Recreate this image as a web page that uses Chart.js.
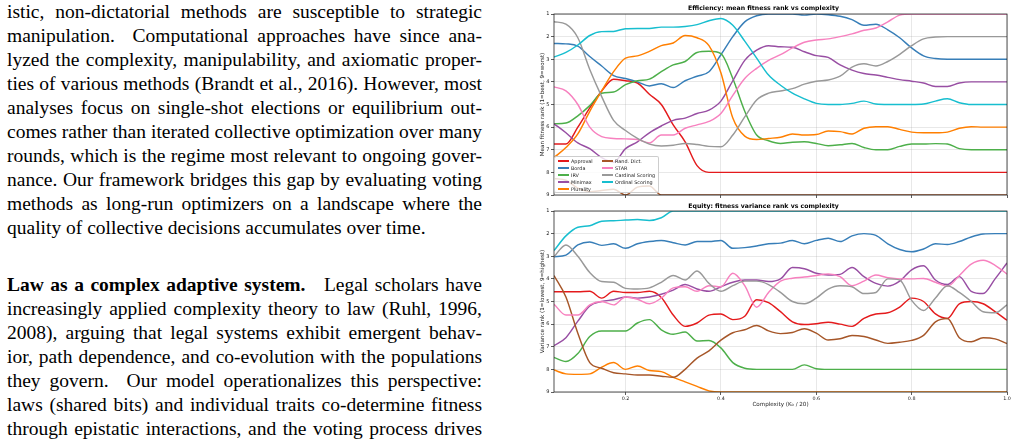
<!DOCTYPE html>
<html lang="en">
<head>
<meta charset="UTF-8">
<title>Voting methods vs complexity</title>
<script src="https://cdn.jsdelivr.net/npm/chart.js"></script>
<style>
  body { margin: 0; width: 1017px; height: 441px; overflow: hidden; background: #fff; position: relative; }
  .col { position: absolute; left: 7px; width: 475px; font-family: "Liberation Serif", "Times New Roman", serif; font-size: 19.5px; line-height: 24px; color: #000; }
  .col div { height: 24px; white-space: nowrap; text-align: justify; text-align-last: justify; }
  .col div.last { text-align: left; text-align-last: left; }
  .col b { margin-right: 12px; }
  #p1 { top: 0; }
  #p2 { top: 273px; }
  .box { position: absolute; left: 520px; width: 497px; }
  #effBox { top: 0; height: 200px; }
  #eqBox { top: 200px; height: 241px; }
  #legend {
    position: absolute; left: 554px; top: 156px; width: 105px; height: 37px;
    box-sizing: border-box; background: rgba(255,255,255,0.8);
    border: 0.8px solid rgba(200,200,200,0.9); border-radius: 2px;
    padding: 0.5px 0 0 3px;
    display: grid; grid-template-columns: 44px auto; grid-template-rows: repeat(5, 7px); grid-auto-flow: column;
    font-family: "DejaVu Sans", sans-serif; font-size: 4.9px; color: #222;
  }
  #legend .item { display: flex; align-items: center; white-space: nowrap; }
  #legend .sw { display: inline-block; width: 10.5px; height: 2px; margin-right: 2.5px; }
</style>
</head>
<body>
<div class="col" id="p1">
  <div>istic, non-dictatorial methods are susceptible to strategic</div>
  <div>manipulation.&nbsp; Computational approaches have since ana-</div>
  <div>lyzed the complexity, manipulability, and axiomatic proper-</div>
  <div>ties of various methods (Brandt et al., 2016). However, most</div>
  <div>analyses focus on single-shot elections or equilibrium out-</div>
  <div>comes rather than iterated collective optimization over many</div>
  <div>rounds, which is the regime most relevant to ongoing gover-</div>
  <div>nance. Our framework bridges this gap by evaluating voting</div>
  <div>methods as long-run optimizers on a landscape where the</div>
  <div class="last">quality of collective decisions accumulates over time.</div>
</div>
<div class="col" id="p2">
  <div><b>Law as a complex adaptive system.</b> Legal scholars have</div>
  <div>increasingly applied complexity theory to law (Ruhl, 1996,</div>
  <div>2008), arguing that legal systems exhibit emergent behav-</div>
  <div>ior, path dependence, and co-evolution with the populations</div>
  <div>they govern.&nbsp; Our model operationalizes this perspective:</div>
  <div>laws (shared bits) and individual traits co-determine fitness</div>
  <div>through epistatic interactions, and the voting process drives</div>
</div>

<div class="box" id="effBox"><canvas id="effChart"></canvas></div>
<div class="box" id="eqBox"><canvas id="eqChart"></canvas></div>
<div id="legend"></div>

<script>
// x values: complexity K0 / 20
const complexity = [0.05, 0.075, 0.1, 0.125, 0.15, 0.175, 0.2, 0.225, 0.25, 0.275,
  0.3, 0.325, 0.35, 0.375, 0.4, 0.425, 0.45, 0.475, 0.5, 0.525,
  0.55, 0.575, 0.6, 0.625, 0.65, 0.675, 0.7, 0.725, 0.75, 0.775,
  0.8, 0.825, 0.85, 0.875, 0.9, 0.925, 0.95, 0.975, 1.0];

const methods = ['Approval', 'Borda', 'IRV', 'Minimax', 'Plurality',
  'Rand. Dict.', 'STAR', 'Cardinal Scoring', 'Ordinal Scoring'];
const lineColors = ['#e41a1c', '#377eb8', '#4daf4a', '#984ea3', '#ff7f00',
  '#a65628', '#f781bf', '#999999', '#17becf'];

const rankTicks = [1, 2, 3, 4, 5, 6, 7, 8, 9];
const complexityTicks = [0.2, 0.4, 0.6, 0.8, 1.0];

// Efficiency: mean fitness rank (1 = best)
const effApproval = [6.75, 6.75, 6.0, 5.15, 4.4, 3.88, 3.95, 4.05, 4.55, 5.0,
  5.9, 6.65, 7.7, 8.0, 8, 8, 8, 8, 8, 8,
  8, 8, 8, 8, 8, 8, 8, 8, 8, 8,
  8, 8, 8, 8, 8, 8, 8, 8, 8];
const effBorda = [2.3, 2.32, 2.42, 2.88, 3.3, 3.72, 3.85, 4.0, 4.18, 4.08,
  4.25, 3.95, 3.75, 3.55, 2.8, 2.0, 1.35, 1.08, 1.0, 1.0,
  1.0, 1.05, 1.0, 1.03, 1.1, 1.25, 1.5, 1.45, 1.7, 2.05,
  2.5, 2.85, 2.97, 3.0, 3.0, 3.0, 3.0, 3.0, 3.0];
const effIRV = [5.85, 5.82, 5.5, 5.05, 4.5, 4.45, 4.12, 3.95, 3.88, 3.55,
  3.25, 3.1, 2.7, 2.65, 2.75, 3.85, 5.3, 6.35, 6.6, 6.72,
  6.67, 6.65, 6.72, 6.82, 6.78, 6.72, 6.9, 7.0, 7.0, 6.85,
  6.75, 6.75, 6.73, 6.75, 6.95, 7.0, 7.0, 7.0, 7.0];
const effMinimax = [5.85, 6.25, 6.7, 6.95, 7.35, 7.55, 6.95, 6.65, 6.25, 5.95,
  5.7, 5.6, 5.4, 5.25, 4.85, 3.95, 3.05, 2.6, 2.4, 2.45,
  2.47, 2.67, 2.84, 2.92, 3.25, 3.48, 3.63, 3.7, 3.8, 3.9,
  3.97, 4.05, 4.2, 4.2, 4.05, 4.0, 4.0, 4.0, 4.0];
const effPlurality = [7.35, 6.9, 6.3, 5.3, 4.4, 3.55, 2.95, 2.85, 2.65, 2.4,
  2.28, 1.95, 2.05, 2.4, 3.6, 5.6, 6.4, 6.55, 6.5, 6.45,
  6.3, 6.35, 6.33, 6.17, 6.2, 6.3, 6.05, 5.98, 5.98, 6.1,
  6.22, 6.25, 6.25, 6.22, 6.05, 5.98, 6.0, 6.0, 6.0];
const effRandDict = [8.27, 8.35, 8.7, 8.85, 8.8, 8.75, 9.0, 8.65, 8.6, 9.0,
  9, 9, 9, 9, 9, 9, 9, 9, 9, 9,
  9, 9, 9, 9, 9, 9, 9, 9, 9, 9,
  9, 9, 9, 9, 9, 9, 9, 9, 9];
const effSTAR = [4.22, 4.4, 5.0, 6.0, 6.42, 6.5, 6.52, 6.55, 6.7, 6.35,
  6.35, 6.05, 5.9, 5.75, 5.4, 4.6, 3.85, 3.4, 3.05, 2.8,
  2.5, 2.25, 2.15, 2.1, 2.0, 1.88, 1.72, 1.62, 1.35, 1.05,
  1.0, 1.0, 1.0, 1.0, 1.0, 1.0, 1.0, 1.0, 1.0];
const effCardinal = [1.34, 1.45, 2.05, 3.45, 4.65, 5.7, 6.15, 6.5, 6.75, 6.83,
  6.8, 6.72, 6.77, 6.85, 6.87, 6.35, 5.55, 4.8, 4.5, 4.4,
  4.3, 4.1, 3.97, 3.92, 3.75, 3.35, 3.2, 3.3, 3.1, 2.78,
  2.4, 2.1, 2.02, 2.0, 2.0, 2.0, 2.0, 2.0, 2.0];
const effOrdinal = [2.9, 2.7, 2.37, 1.95, 1.78, 1.77, 1.65, 1.64, 1.64, 1.58,
  1.58, 1.55, 1.47, 1.3, 1.2, 1.5, 2.2, 2.95, 3.7, 4.15,
  4.5, 4.75, 4.95, 5.0, 5.0, 4.95, 4.85, 4.98, 5.0, 5.0,
  5.0, 4.98, 4.85, 4.75, 4.92, 5.0, 5.0, 5.0, 5.0];

// Equity: fitness variance rank (1 = lowest)
const eqApproval = [4.57, 4.57, 4.57, 4.55, 4.85, 4.55, 4.6, 4.6, 4.55, 4.82,
  5.6, 6.1, 5.95, 5.6, 5.55, 5.8, 5.65, 4.92, 5.05, 5.45,
  5.9, 6.02, 5.98, 5.92, 6.0, 6.1, 5.75, 5.55, 5.5, 5.25,
  4.85, 5.0, 5.55, 5.75, 5.1, 5.0, 5.1, 5.45, 5.83];
const eqBorda = [3.02, 2.95, 2.5, 2.37, 2.52, 2.45, 2.65, 2.45, 2.35, 2.3,
  2.4, 2.5, 2.35, 2.35, 2.3, 2.65, 2.62, 2.55, 2.45, 2.42,
  2.3, 2.45, 2.3, 2.2, 2.35, 2.1, 2.0, 2.08, 2.45, 2.7,
  2.8, 2.68, 2.45, 2.48, 2.35, 2.15, 2.02, 2.0, 2.0];
const eqIRV = [7.47, 7.65, 7.3, 6.55, 6.3, 6.3, 6.3, 5.95, 5.8, 6.25,
  6.45, 6.35, 6.75, 6.72, 7.05, 7.7, 7.95, 8.0, 8.0, 8.0,
  8.0, 7.8, 7.97, 8, 8, 8, 8, 8, 8, 8,
  8, 8, 8, 8, 8, 8, 8, 8, 8];
const eqMinimax = [6.95, 6.6, 5.87, 5.2, 5.0, 4.92, 4.8, 4.85, 4.8, 4.68,
  4.5, 4.25, 4.45, 4.55, 4.35, 4.15, 4.05, 4.05, 4.12, 4.0,
  3.5, 3.55, 3.75, 3.83, 3.8, 3.5, 3.9, 4.2, 4.32, 4.1,
  3.6, 3.42, 4.05, 4.25, 3.9, 4.55, 4.65, 4.0, 3.3];
const eqPlurality = [8.03, 8.2, 8.22, 8.2, 7.9, 7.7, 8.0, 7.85, 8.05, 8.1,
  8.35, 8.55, 8.75, 8.95, 9, 9, 9, 9, 9, 9,
  9, 9, 9, 9, 9, 9, 9, 9, 9, 9,
  9, 9, 9, 9, 9, 9, 9, 9, 9];
const eqRandDict = [3.85, 4.8, 6.4, 7.7, 7.95, 8.15, 8.2, 8.25, 8.25, 8.3,
  8.35, 8.0, 7.5, 7.18, 6.71, 6.38, 6.25, 6.06, 6.3, 6.42,
  6.37, 6.2, 6.4, 6.7, 6.65, 6.5, 6.55, 6.7, 6.85, 6.8,
  6.72, 6.5, 5.9, 5.75, 6.6, 6.78, 6.6, 6.65, 6.86];
const eqSTAR = [5.12, 5.6, 5.6, 5.15, 5.0, 5.15, 4.8, 4.9, 5.1, 4.85,
  4.4, 4.35, 4.55, 4.3, 4.35, 3.75, 4.3, 5.25, 4.6, 4.1,
  3.97, 3.92, 3.85, 3.78, 3.9, 4.3, 4.1, 3.83, 3.95, 4.0,
  4.0, 3.98, 4.15, 4.33, 3.85, 3.35, 3.18, 3.4, 3.79];
const eqCardinal = [3.02, 2.5, 3.0, 3.72, 4.12, 4.15, 4.42, 4.45, 4.4, 4.15,
  3.85, 4.05, 3.65, 4.2, 4.55, 4.3, 4.1, 4.1, 4.25, 4.6,
  5.0, 5.1, 4.85, 4.45, 4.3, 4.35, 4.65, 4.6, 4.0, 4.05,
  4.95, 5.4, 4.85, 4.3, 4.6, 5.0, 5.45, 5.5, 5.15];
const eqOrdinal = [2.75, 2.1, 1.72, 1.65, 1.45, 1.43, 1.4, 1.38, 1.42, 1.3,
  1, 1, 1, 1, 1, 1, 1, 1, 1, 1,
  1, 1, 1, 1, 1, 1, 1, 1, 1, 1,
  1, 1, 1, 1, 1, 1, 1, 1, 1];

const effSeries = [effApproval, effBorda, effIRV, effMinimax, effPlurality,
  effRandDict, effSTAR, effCardinal, effOrdinal];
const eqSeries = [eqApproval, eqBorda, eqIRV, eqMinimax, eqPlurality,
  eqRandDict, eqSTAR, eqCardinal, eqOrdinal];

Chart.defaults.font.family = '"DejaVu Sans", sans-serif';
Chart.defaults.color = '#222';

const gridColor = 'rgba(160,160,160,0.3)';

// black box around the plot area, like matplotlib spines
const framePlugin = {
  id: 'frame',
  afterDatasetsDraw(chart) {
    const a = chart.chartArea;
    const ctx = chart.ctx;
    ctx.save();
    ctx.strokeStyle = '#262626';
    ctx.lineWidth = 0.8;
    ctx.strokeRect(a.left, a.top, a.right - a.left, a.bottom - a.top);
    ctx.restore();
  }
};

function makeDatasets(series) {
  return series.map((vals, i) => ({
    label: methods[i],
    data: complexity.map((c, j) => ({ x: c, y: vals[j] })),
    borderColor: lineColors[i],
    backgroundColor: lineColors[i],
    borderWidth: 1.45,
    pointRadius: 0,
    fill: false,
    cubicInterpolationMode: 'monotone',
    order: methods.length - i
  }));
}

function makeChart(id, series, opts) {
  return new Chart(document.getElementById(id), {
    type: 'line',
    data: { datasets: makeDatasets(series) },
    options: {
      responsive: true,
      maintainAspectRatio: false,
      animation: false,
      events: [],
      layout: { padding: { left: 0, right: 10, top: 0, bottom: 0 } },
      plugins: {
        legend: { display: false },
        tooltip: { enabled: false },
        title: {
          display: true,
          text: opts.title,
          color: '#000',
          font: { size: 6.2, weight: 'bold', lineHeight: 1 },
          padding: opts.titlePadding
        }
      },
      scales: {
        x: {
          type: 'linear',
          min: 0.05,
          max: 1.0,
          afterBuildTicks: s => { s.ticks = complexityTicks.map(v => ({ value: v })); },
          afterFit: s => { s.height = opts.xHeight; },
          ticks: {
            display: opts.showX,
            font: { size: 4.8 },
            padding: 1,
            maxRotation: 0,
            callback: v => Number(v).toFixed(1)
          },
          grid: { color: gridColor, lineWidth: 0.8, tickLength: 3, tickColor: '#333' },
          border: { display: false },
          title: {
            display: opts.showX,
            text: 'Complexity (K\u2080 / 20)',
            color: '#222',
            font: { size: 5.6, lineHeight: 1 },
            padding: { top: 0, bottom: 34 }
          }
        },
        y: {
          reverse: true,
          min: 1,
          max: 9,
          afterBuildTicks: s => { s.ticks = rankTicks.map(v => ({ value: v })); },
          afterFit: s => { s.width = 34; },
          ticks: { font: { size: 5 }, padding: 1.5 },
          grid: { color: gridColor, lineWidth: 0.8, tickLength: 3, tickColor: '#333' },
          border: { display: false },
          title: {
            display: true,
            text: opts.yTitle,
            color: '#222',
            font: { size: 5.6, lineHeight: 1 },
            padding: { top: 20, bottom: 0 }
          }
        }
      }
    },
    plugins: [framePlugin]
  });
}

makeChart('effChart', effSeries, {
  title: 'Efficiency: mean fitness rank vs complexity',
  titlePadding: { top: 5.6, bottom: 2.2 },
  yTitle: 'Mean fitness rank (1=best, 9=worst)',
  showX: false,
  xHeight: 5
});

makeChart('eqChart', eqSeries, {
  title: 'Equity: fitness variance rank vs complexity',
  titlePadding: { top: 2.9, bottom: 1.9 },
  yTitle: 'Variance rank (1=lowest, 9=highest)',
  showX: true,
  xHeight: 49
});

// legend of the top panel, two columns, drawn over the plot
const legendBox = document.getElementById('legend');
methods.forEach((m, i) => {
  const item = document.createElement('div');
  item.className = 'item';
  const sw = document.createElement('span');
  sw.className = 'sw';
  sw.style.background = lineColors[i];
  const label = document.createElement('span');
  label.textContent = m;
  item.append(sw, label);
  legendBox.append(item);
});
</script>
</body>
</html>
